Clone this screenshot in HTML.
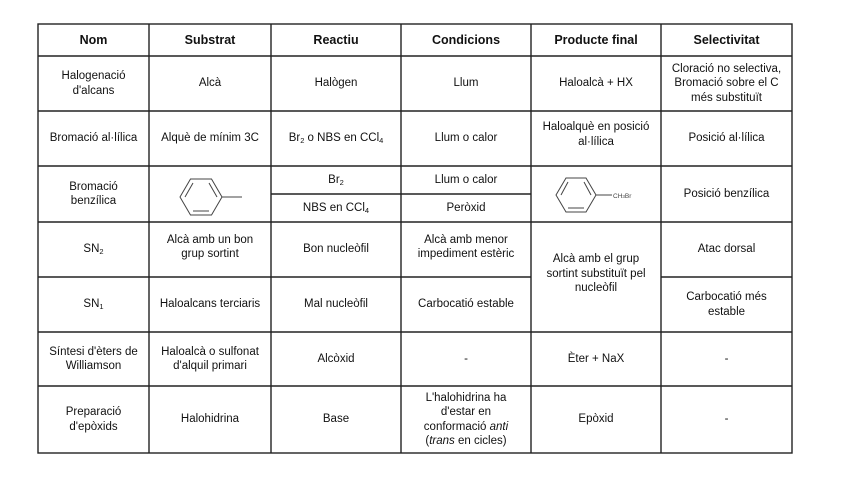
<!DOCTYPE html>
<html><head><meta charset="utf-8"><style>
body{margin:0;width:848px;height:477px;background:#fff;position:relative;overflow:hidden;font-family:"Liberation Sans",sans-serif;color:#111}
.c{position:absolute;display:flex;align-items:center;justify-content:center;text-align:center;font-size:11.5px;line-height:14.5px}
.h{font-weight:bold;font-size:12.5px}
sub{font-size:7.5px;vertical-align:-2px;line-height:0}
svg{position:absolute;left:0;top:0}
</style></head><body>
<svg width="848" height="477">
<g stroke="#222" stroke-width="1.4" fill="none">
<rect x="38" y="24" width="754" height="429"/>
<line x1="38" y1="56" x2="792" y2="56"/>
<line x1="38" y1="111" x2="792" y2="111"/>
<line x1="38" y1="166" x2="792" y2="166"/>
<line x1="271" y1="194" x2="531" y2="194"/>
<line x1="38" y1="222" x2="792" y2="222"/>
<line x1="38" y1="277" x2="531" y2="277"/>
<line x1="661" y1="277" x2="792" y2="277"/>
<line x1="38" y1="332" x2="792" y2="332"/>
<line x1="38" y1="386" x2="792" y2="386"/>
<line x1="149" y1="24" x2="149" y2="453"/>
<line x1="271" y1="24" x2="271" y2="453"/>
<line x1="401" y1="24" x2="401" y2="453"/>
<line x1="531" y1="24" x2="531" y2="453"/>
<line x1="661" y1="24" x2="661" y2="453"/>
</g>
<g stroke="#444" stroke-width="1" fill="none">
<polygon points="180,197 190.5,179 211.5,179 222,197 211.5,215 190.5,215"/>
<line x1="193" y1="183" x2="185" y2="197"/><line x1="193" y1="211" x2="209" y2="211"/><line x1="209" y1="183" x2="217" y2="197"/>
<line x1="222" y1="197" x2="242" y2="197"/>
<polygon points="556,195 566,178 586,178 596,195 586,212 566,212"/>
<line x1="568" y1="182" x2="561" y2="195"/><line x1="568" y1="208" x2="584" y2="208"/><line x1="584" y1="182" x2="591" y2="195"/>
<line x1="596" y1="195" x2="612" y2="195"/>
</g>
<text x="613" y="198" font-size="6.5" font-family="Liberation Sans" fill="#444">CH<tspan font-size="4.5">3</tspan>Br</text>
</svg>
<div class="c h" style="left:38px;top:24px;width:111px;height:32px"><div>Nom</div></div>
<div class="c h" style="left:149px;top:24px;width:122px;height:32px"><div>Substrat</div></div>
<div class="c h" style="left:271px;top:24px;width:130px;height:32px"><div>Reactiu</div></div>
<div class="c h" style="left:401px;top:24px;width:130px;height:32px"><div>Condicions</div></div>
<div class="c h" style="left:531px;top:24px;width:130px;height:32px"><div>Producte final</div></div>
<div class="c h" style="left:661px;top:24px;width:131px;height:32px"><div>Selectivitat</div></div>

<div class="c" style="left:38px;top:56px;width:111px;height:55px"><div>Halogenació<br>d'alcans</div></div>
<div class="c" style="left:149px;top:56px;width:122px;height:55px"><div>Alcà</div></div>
<div class="c" style="left:271px;top:56px;width:130px;height:55px"><div>Halògen</div></div>
<div class="c" style="left:401px;top:56px;width:130px;height:55px"><div>Llum</div></div>
<div class="c" style="left:531px;top:56px;width:130px;height:55px"><div>Haloalcà + HX</div></div>
<div class="c" style="left:661px;top:56px;width:131px;height:55px"><div>Cloració no selectiva,<br>Bromació sobre el C<br>més substituït</div></div>

<div class="c" style="left:38px;top:111px;width:111px;height:55px"><div>Bromació al·lílica</div></div>
<div class="c" style="left:149px;top:111px;width:122px;height:55px"><div>Alquè de mínim 3C</div></div>
<div class="c" style="left:271px;top:111px;width:130px;height:55px"><div>Br<sub>2</sub> o NBS en CCl<sub>4</sub></div></div>
<div class="c" style="left:401px;top:111px;width:130px;height:55px"><div>Llum o calor</div></div>
<div class="c" style="left:531px;top:111px;width:130px;height:47px"><div>Haloalquè en posició<br>al·lílica</div></div>
<div class="c" style="left:661px;top:111px;width:131px;height:55px"><div>Posició al·lílica</div></div>

<div class="c" style="left:38px;top:166px;width:111px;height:56px"><div>Bromació<br>benzílica</div></div>
<div class="c" style="left:271px;top:166px;width:130px;height:28px"><div>Br<sub>2</sub></div></div>
<div class="c" style="left:271px;top:194px;width:130px;height:28px"><div>NBS en CCl<sub>4</sub></div></div>
<div class="c" style="left:401px;top:166px;width:130px;height:28px"><div>Llum o calor</div></div>
<div class="c" style="left:401px;top:194px;width:130px;height:28px"><div>Peròxid</div></div>
<div class="c" style="left:661px;top:166px;width:131px;height:56px"><div>Posició benzílica</div></div>

<div class="c" style="left:38px;top:222px;width:111px;height:55px"><div>SN<sub>2</sub></div></div>
<div class="c" style="left:149px;top:222px;width:122px;height:50px"><div>Alcà amb un bon<br>grup sortint</div></div>
<div class="c" style="left:271px;top:222px;width:130px;height:55px"><div>Bon nucleòfil</div></div>
<div class="c" style="left:401px;top:222px;width:130px;height:50px"><div>Alcà amb menor<br>impediment estèric</div></div>
<div class="c" style="left:531px;top:222px;width:130px;height:104px"><div>Alcà amb el grup<br>sortint substituït pel<br>nucleòfil</div></div>
<div class="c" style="left:661px;top:222px;width:131px;height:55px"><div>Atac dorsal</div></div>

<div class="c" style="left:38px;top:277px;width:111px;height:55px"><div>SN<sub>1</sub></div></div>
<div class="c" style="left:149px;top:277px;width:122px;height:55px"><div>Haloalcans terciaris</div></div>
<div class="c" style="left:271px;top:277px;width:130px;height:55px"><div>Mal nucleòfil</div></div>
<div class="c" style="left:401px;top:277px;width:130px;height:55px"><div>Carbocatió estable</div></div>
<div class="c" style="left:661px;top:277px;width:131px;height:55px"><div>Carbocatió més<br>estable</div></div>

<div class="c" style="left:38px;top:332px;width:111px;height:54px"><div>Síntesi d'èters de<br>Williamson</div></div>
<div class="c" style="left:149px;top:332px;width:122px;height:54px"><div>Haloalcà o sulfonat<br>d'alquil primari</div></div>
<div class="c" style="left:271px;top:332px;width:130px;height:54px"><div>Alcòxid</div></div>
<div class="c" style="left:401px;top:332px;width:130px;height:54px"><div>-</div></div>
<div class="c" style="left:531px;top:332px;width:130px;height:54px"><div>Èter + NaX</div></div>
<div class="c" style="left:661px;top:332px;width:131px;height:54px"><div>-</div></div>

<div class="c" style="left:38px;top:386px;width:111px;height:67px"><div>Preparació<br>d'epòxids</div></div>
<div class="c" style="left:149px;top:386px;width:122px;height:67px"><div>Halohidrina</div></div>
<div class="c" style="left:271px;top:386px;width:130px;height:67px"><div>Base</div></div>
<div class="c" style="left:401px;top:386px;width:130px;height:67px"><div>L'halohidrina ha<br>d'estar en<br>conformació <i>anti</i><br>(<i>trans</i> en cicles)</div></div>
<div class="c" style="left:531px;top:386px;width:130px;height:67px"><div>Epòxid</div></div>
<div class="c" style="left:661px;top:386px;width:131px;height:67px"><div>-</div></div>
</body></html>
